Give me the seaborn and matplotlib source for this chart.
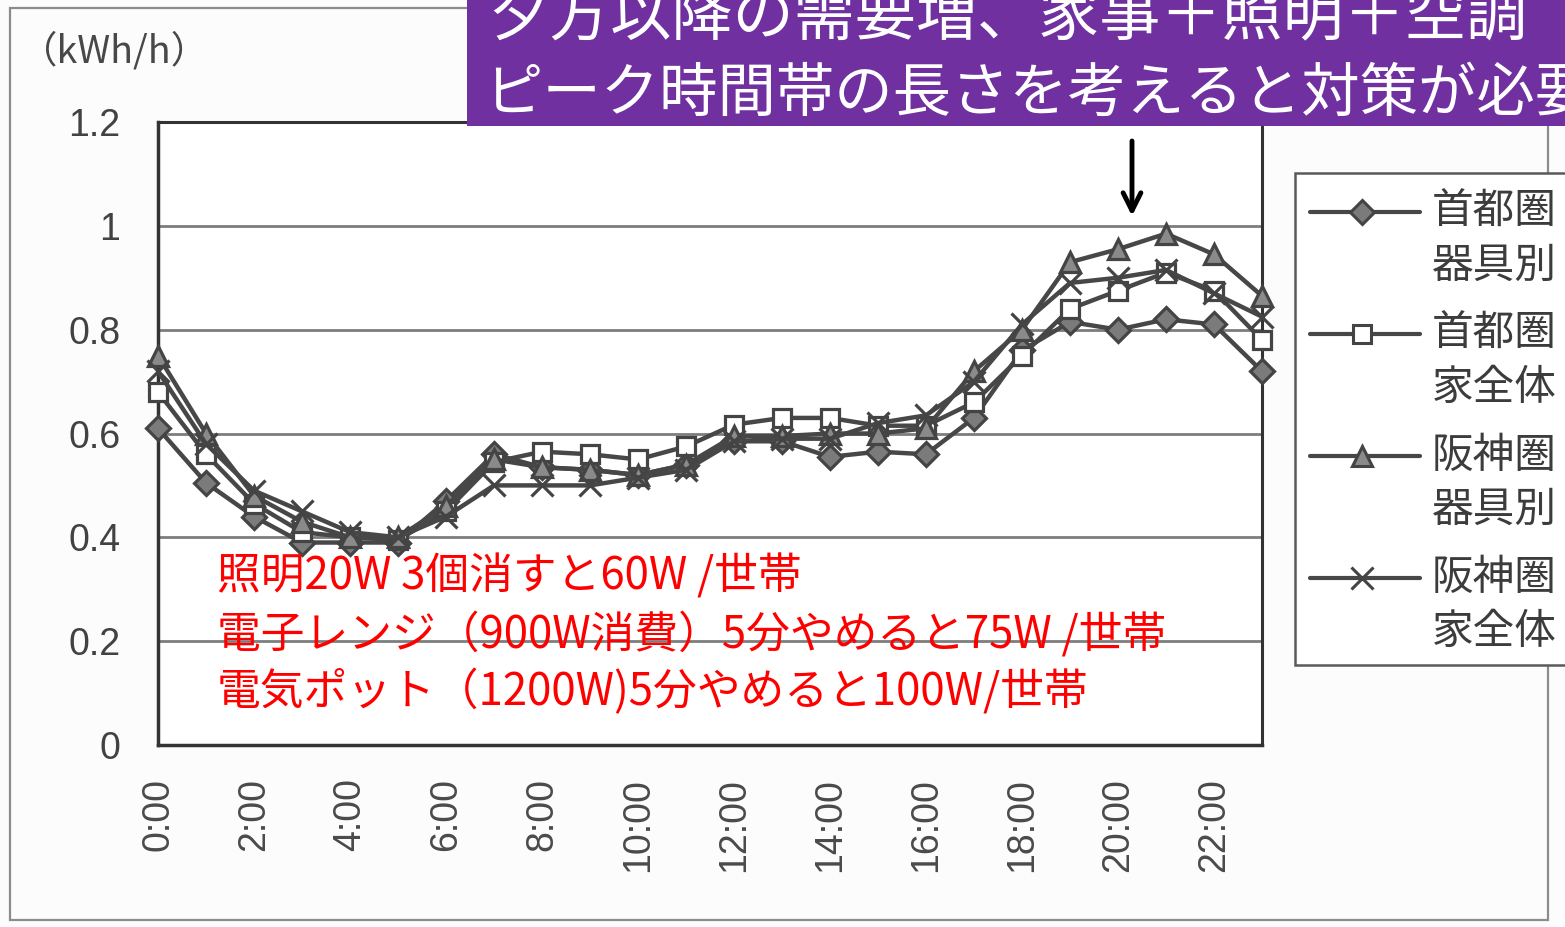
import matplotlib
matplotlib.use("Agg")
import matplotlib.pyplot as plt
from matplotlib.patches import Rectangle
from matplotlib.lines import Line2D
import seaborn as sns

# ---- data -------------------------------------------------------------
hours = list(range(24))
hour_ticks = list(range(0, 24, 2))
hour_labels = [f"{h}:00" for h in hour_ticks]
y_ticks = [0, 0.2, 0.4, 0.6, 0.8, 1.0, 1.2]
y_tick_labels = ["0", "0.2", "0.4", "0.6", "0.8", "1", "1.2"]

series_names = ["首都圏\n器具別", "首都圏\n家全体", "阪神圏\n器具別", "阪神圏\n家全体"]
shuto_kigu = [0.61, 0.505, 0.44, 0.39, 0.39, 0.39, 0.47, 0.56, 0.535, 0.53, 0.52, 0.54,
              0.585, 0.585, 0.555, 0.565, 0.56, 0.63, 0.76, 0.815, 0.80, 0.82, 0.81, 0.72]
shuto_ie = [0.68, 0.56, 0.465, 0.41, 0.40, 0.395, 0.45, 0.545, 0.565, 0.56, 0.55, 0.575,
            0.617, 0.63, 0.63, 0.615, 0.615, 0.66, 0.75, 0.84, 0.875, 0.91, 0.875, 0.78]
hanshin_kigu = [0.75, 0.60, 0.48, 0.43, 0.40, 0.40, 0.46, 0.55, 0.535, 0.53, 0.52, 0.54,
                0.595, 0.595, 0.60, 0.60, 0.61, 0.72, 0.80, 0.93, 0.955, 0.985, 0.945, 0.865]
hanshin_ie = [0.72, 0.58, 0.49, 0.45, 0.41, 0.40, 0.44, 0.50, 0.50, 0.50, 0.515, 0.53,
              0.585, 0.59, 0.59, 0.62, 0.635, 0.70, 0.81, 0.89, 0.90, 0.915, 0.87, 0.825]

unit_label = "（kWh/h）"
banner_lines = ["夕方以降の需要増、家事＋照明＋空調", "ピーク時間帯の長さを考えると対策が必要"]
note_lines = ["照明20W 3個消すと60W /世帯",
              "電子レンジ（900W消費）5分やめると75W /世帯",
              "電気ポット（1200W)5分やめると100W/世帯"]

# ---- style ------------------------------------------------------------
sns.set_style("white")
plt.rcParams["font.family"] = ["Liberation Sans", "Noto Sans CJK JP"]
JP = ["Noto Sans CJK JP", "DejaVu Sans"]

W, H = 1565, 927
def fx(x):
    return x / W
def fy(y):
    return 1 - y / H

LINE = "#474747"
styles = [
    dict(marker="D", markersize=12, markerfacecolor="#7b7b7b"),
    dict(marker="s", markersize=13, markerfacecolor="white"),
    dict(marker="^", markersize=15, markerfacecolor="#8a8a8a"),
    dict(marker="x", markersize=16, markerfacecolor="none"),
]
all_series = [shuto_kigu, shuto_ie, hanshin_kigu, hanshin_ie]

fig = plt.figure(figsize=(W / 100, H / 100), dpi=100, facecolor="#fcfcfc")

# outer frame
fig.add_artist(Rectangle((fx(10), fy(920)), fx(1548) - fx(10), fy(8) - fy(920),
                         transform=fig.transFigure, fill=False, edgecolor="#8c8c8c",
                         lw=1.6, zorder=0))

ax = fig.add_axes([fx(158), fy(745), fx(1262) - fx(158), fy(122) - fy(745)])
ax.set_facecolor("white")

for y in y_ticks[1:-1]:
    ax.axhline(y, color="#7d7d7d", lw=2, zorder=1)

for vals, st in zip(all_series, styles):
    sns.lineplot(x=hours, y=vals, ax=ax, color=LINE, lw=3.2, legend=False,
                 markeredgecolor="#444444", markeredgewidth=2.3,
                 clip_on=False, zorder=3, **st)

ax.set_xlim(0, 23)
ax.set_ylim(0, 1.2)
ax.set_xticks(hour_ticks)
ax.set_xticklabels(hour_labels, rotation=90, fontsize=27, color="#4a4a4a")
ax.set_xticks([h for h in hours if h % 2 == 1], minor=True)
ax.tick_params(axis="x", which="both", direction="in", length=11, width=1.6,
               color="#444444", pad=24)
ax.set_yticks(y_ticks)
ax.set_yticklabels(y_tick_labels, fontsize=27, color="#424242")
ax.tick_params(axis="y", length=0, pad=27)
ax.set_xlabel("")
ax.set_ylabel("")

for side in ("left", "bottom"):
    ax.spines[side].set_color("#333333")
    ax.spines[side].set_linewidth(2.5)
for side in ("top", "right"):
    ax.spines[side].set_color("#333333")
    ax.spines[side].set_linewidth(2.2)
    ax.spines[side].set_linestyle((0, (1, 1)))

fig.text(fx(20), fy(52), unit_label, fontsize=27, color="#484848",
         family=JP, va="center", ha="left")

# legend box
fig.add_artist(Rectangle((fx(1295), fy(665)), fx(1600) - fx(1295), fy(173) - fy(665),
                         transform=fig.transFigure, facecolor="white",
                         edgecolor="#5a5a5a", lw=1.8, zorder=2))
for i, (name, st) in enumerate(zip(series_names, styles)):
    yc = 212 + i * 122
    fig.add_artist(Line2D([fx(1310), fx(1362), fx(1420)], [fy(yc)] * 3,
                          transform=fig.transFigure, color=LINE, lw=3,
                          markevery=[1], markeredgecolor="#444444",
                          markeredgewidth=2.2, zorder=3, **st))
    top, bottom = name.split("\n")
    fig.text(fx(1432), fy(yc), top, fontsize=30, color="#3c3c3c", family=JP,
             va="center", ha="left", zorder=4)
    fig.text(fx(1432), fy(yc + 54), bottom, fontsize=30, color="#3c3c3c", family=JP,
             va="center", ha="left", zorder=4)

# banner
fig.add_artist(Rectangle((fx(467), fy(126)), fx(1600) - fx(467), 0.2,
                         transform=fig.transFigure, facecolor="#7030A0",
                         edgecolor="none", zorder=5))
fig.text(fx(488), fy(18), banner_lines[0], fontsize=44, color="white",
         family=JP, va="center", ha="left", zorder=6)
fig.text(fx(484), fy(94), banner_lines[1], fontsize=42, color="white",
         family=JP, va="center", ha="left", zorder=6)

# arrow towards the evening peak
ax.annotate("", xy=(1132, H - 216), xytext=(1132, H - 141),
            xycoords="figure pixels", textcoords="figure pixels",
            arrowprops=dict(arrowstyle="->", lw=3.5, color="black",
                            mutation_scale=32, shrinkA=0, shrinkB=0),
            annotation_clip=False)

# notes
for i, line in enumerate(note_lines):
    fig.text(fx(217), fy(576 + i * 58), line, fontsize=31.5, color="#ff0000",
             family=JP, va="center", ha="left", zorder=6)

fig.savefig("out.png", dpi=100, facecolor=fig.get_facecolor())
